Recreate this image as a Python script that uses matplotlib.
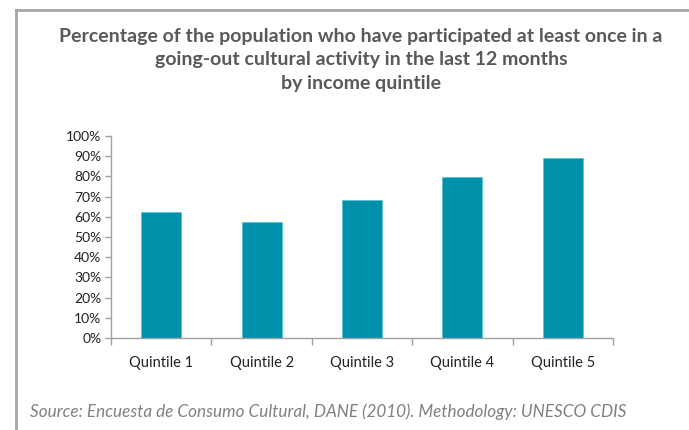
import numpy as np
import matplotlib.pyplot as plt
from matplotlib.lines import Line2D

categories = ['Quintile 1', 'Quintile 2', 'Quintile 3', 'Quintile 4', 'Quintile 5']
values = [62.4, 57.4, 68.2, 79.7, 89.0]
yticks = [0, 10, 20, 30, 40, 50, 60, 70, 80, 90, 100]

plt.rcParams['font.family'] = ['Lato', 'DejaVu Sans']

fig = plt.figure(figsize=(6.89, 4.30), dpi=100)
W, H = 689, 430
# axes placed in pixel coordinates
ax = fig.add_axes([111 / W, 1 - 338 / H, (613 - 111) / W, (338 - 136) / H])

x = np.arange(len(categories))
ax.bar(x, values, width=0.4, color='#0091AA', edgecolor='#5FC3D3', linewidth=0.6)

ax.set_xlim(-0.5, len(categories) - 0.5)
ax.set_ylim(0, 100)
ax.set_yticks(yticks)
ax.set_yticklabels([f'{v}%' for v in yticks], fontsize=10, color='#222222')
ax.set_xticks(x)
ax.set_xticklabels(categories, fontsize=10.5, color='#222222')
ax.tick_params(axis='x', length=0, pad=13)
ax.tick_params(axis='y', length=4, color='#A0A0A0', width=1, pad=3)
# category boundary ticks on the x axis
ax.set_xticks(np.arange(-0.5, len(categories)), minor=True)
ax.tick_params(axis='x', which='minor', length=5, color='#A0A0A0', width=1)

for s in ['top', 'right']:
    ax.spines[s].set_visible(False)
for s in ['left', 'bottom']:
    ax.spines[s].set_color('#A0A0A0')
    ax.spines[s].set_linewidth(1)

fig.text(361 / W, 1 - 28 / H,
         'Percentage of the population who have participated at least once in a\n'
         'going-out cultural activity in the last 12 months\nby income quintile',
         ha='center', va='top', fontsize=14, fontweight='bold', color='#595959',
         linespacing=1.45)

fig.text(30 / W, 1 - 412 / H,
         'Source: Encuesta de Consumo Cultural, DANE (2010). Methodology: UNESCO CDIS',
         ha='left', va='center', fontsize=12.3, style='italic', color='#808080')

# frame lines
fig.add_artist(Line2D([16 / W, 16 / W], [0, 1 - 10 / H], transform=fig.transFigure,
                      color='#A6A6A6', linewidth=2))
fig.add_artist(Line2D([16 / W, 1], [1 - 10 / H, 1 - 10 / H], transform=fig.transFigure,
                      color='#A6A6A6', linewidth=2))

fig.savefig('out.png', dpi=100)
